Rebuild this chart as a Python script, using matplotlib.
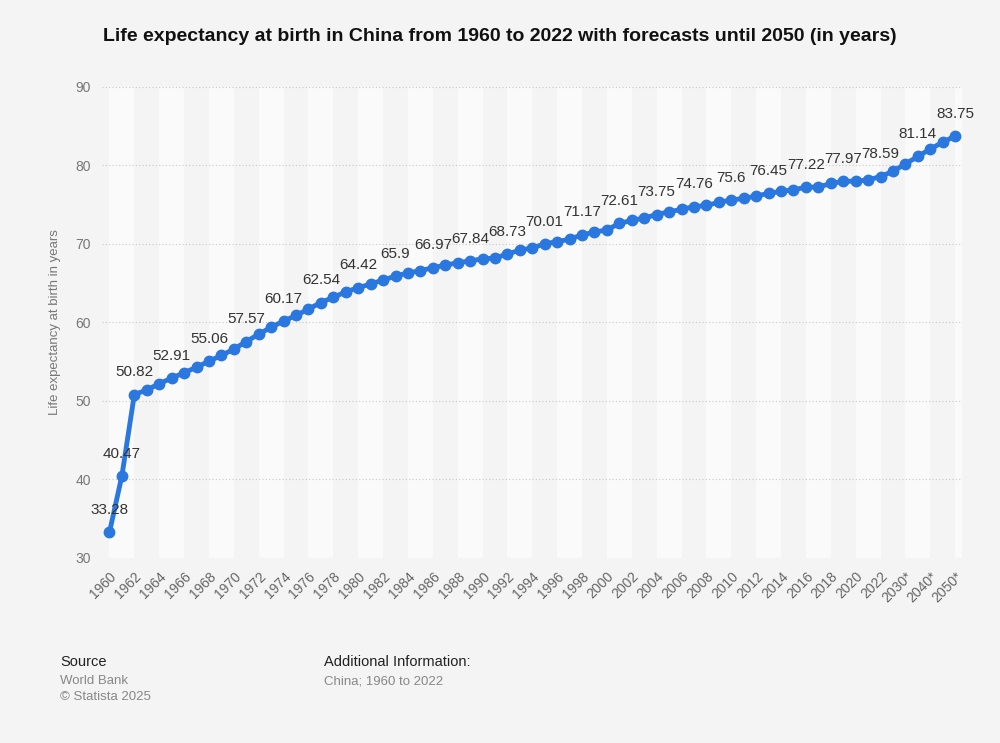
import matplotlib
matplotlib.use("Agg")
import matplotlib.pyplot as plt
import numpy as np

plt.rcParams['font.family'] = ['Liberation Sans', 'DejaVu Sans']

years = [str(y) for y in range(1960, 2023)] + ["2025*", "2030*", "2035*", "2040*", "2045*", "2050*"]
values = [33.28, 40.47, 50.82, 51.4, 52.2, 52.91, 53.6, 54.3, 55.06, 55.8,
          56.6, 57.57, 58.5, 59.4, 60.17, 60.9, 61.7, 62.54, 63.2, 63.9,
          64.42, 64.9, 65.4, 65.9, 66.3, 66.6, 66.97, 67.3, 67.6, 67.84,
          68.1, 68.2, 68.73, 69.2, 69.5, 70.01, 70.3, 70.6, 71.17, 71.5,
          71.8, 72.61, 73.0, 73.3, 73.75, 74.1, 74.4, 74.76, 74.9, 75.3,
          75.6, 75.8, 76.1, 76.45, 76.7, 76.9, 77.22, 77.25, 77.7, 77.97,
          78.0, 78.15, 78.59, 79.25, 80.2, 81.14, 82.1, 82.95, 83.75]
yticks = [30, 40, 50, 60, 70, 80, 90]

bg = "#f4f4f4"
fig = plt.figure(figsize=(10, 7.43), dpi=100, facecolor=bg)
ax = fig.add_axes([0.102, 0.249, 0.86, 0.634], facecolor=bg)
x = np.arange(len(years))
n = len(years)
ax.set_xlim(-0.6, n - 0.45)
ax.set_ylim(30, 90)
for i in range(0, n, 4):
    ax.axvspan(i, i + 2, color="#fafafa", zorder=0, lw=0)
for t in yticks:
    ax.axhline(t, color="#c8c8c8", lw=0.8, ls=(0, (1, 2)), zorder=1)
ax.plot(x, values, color="#2a77e0", lw=3.5, marker="o", ms=7.5, zorder=3)
label_idx = [0, 1] + list(range(2, n, 3))
for i in label_idx:
    ax.annotate(f"{values[i]:g}", (x[i], values[i]), xytext=(0, 11),
                textcoords="offset points", ha="center", va="bottom",
                fontsize=11, color="#333333", zorder=4)
ax.set_xticks(x[::2])
ax.set_xticklabels(years[::2], rotation=45, ha="right", rotation_mode="anchor",
                   fontsize=10, color="#666666")
ax.set_yticks(yticks)
ax.set_yticklabels([str(t) for t in yticks], fontsize=10, color="#777777")
ax.tick_params(length=0, pad=8)
for s in ax.spines.values():
    s.set_visible(False)
ax.set_ylabel("Life expectancy at birth in years", fontsize=9.5, color="#777777", labelpad=10)
fig.text(0.5, 0.951, "Life expectancy at birth in China from 1960 to 2022 with forecasts until 2050 (in years)",
         ha="center", va="center", fontsize=14, fontweight="bold", color="#111111")
fig.text(0.06, 0.104, "Source", fontsize=10.5, color="#222222")
fig.text(0.06, 0.079, "World Bank", fontsize=9.5, color="#888888")
fig.text(0.06, 0.058, "© Statista 2025", fontsize=9.5, color="#888888")
fig.text(0.324, 0.104, "Additional Information:", fontsize=10.5, color="#222222")
fig.text(0.324, 0.079, "China; 1960 to 2022", fontsize=9.5, color="#888888")
fig.savefig("out.png", dpi=100, facecolor=bg)
